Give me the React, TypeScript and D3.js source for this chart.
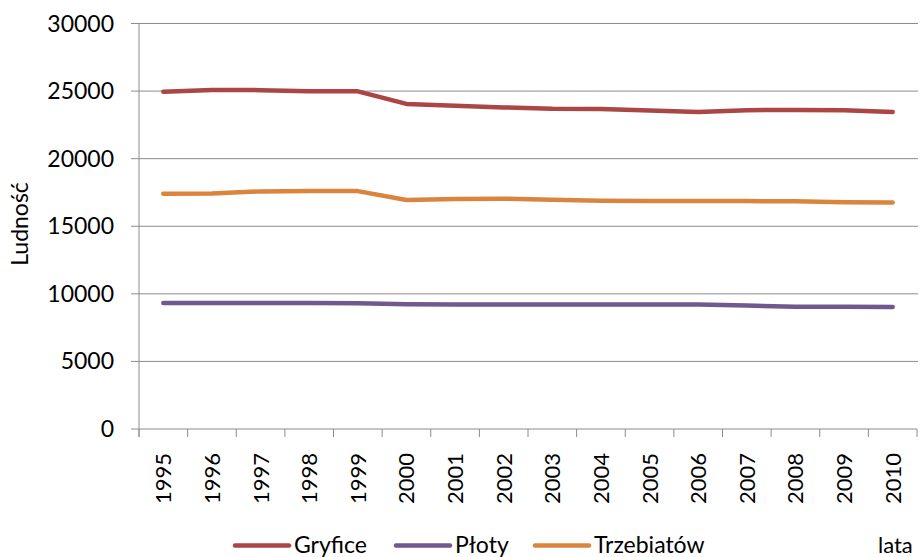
import React from "react";
import * as d3 from "d3";

const years = ["1995","1996","1997","1998","1999","2000","2001","2002","2003","2004","2005","2006","2007","2008","2009","2010"];
const gryfice = [24950,25080,25070,24980,24980,24050,23920,23790,23690,23680,23560,23460,23590,23600,23580,23460];
const ploty = [9320,9320,9320,9320,9310,9230,9220,9220,9220,9220,9220,9210,9130,9050,9040,9030];
const trzebiatow = [17400,17420,17580,17600,17600,16940,17020,17040,16960,16880,16860,16860,16860,16850,16770,16760];
const yTicks = [0,5000,10000,15000,20000,25000,30000];
const seriesNames = ["Gryfice","Płoty","Trzebiatów"];
const seriesColors = ["#AA4643","#71588F","#DB843D"];

const W = 920, H = 557;
const FONT = "Lato, 'Open Sans', sans-serif";

export default function App() {
  const x = d3.scaleBand<string>().domain(years).range([139, 917]).padding(0);
  const y = d3.scaleLinear().domain([0, 30000]).range([429, 23.5]);
  const line = d3.line<number>()
    .x((_, i) => (x(years[i]) as number) + x.bandwidth() / 2)
    .y((d) => y(d));
  const series = [gryfice, ploty, trzebiatow];
  const boundaries = years.map((yr) => x(yr) as number).concat([917]);
  const legendX = [235, 396, 535];

  return (
    <svg width={W} height={H} style={{ position: "absolute", left: 0, top: 0, background: "#fff" }}>
      {yTicks.map((t) => (
        <g key={t}>
          <line x1={131} x2={t === 0 ? 917 : 918} y1={y(t)} y2={y(t)} stroke="#8c8c8c" strokeWidth={1} />
          <text x={114} y={y(t)} dy="0.35em" textAnchor="end" fontFamily={FONT} fontSize={23} fill="#000">{t}</text>
        </g>
      ))}
      <line x1={139} x2={139} y1={y(30000)} y2={437} stroke="#8c8c8c" strokeWidth={1} />
      {boundaries.map((bx, i) => (
        <line key={i} x1={bx} x2={bx} y1={429} y2={437} stroke="#8c8c8c" strokeWidth={1} />
      ))}
      {years.map((yr) => {
        const cx = (x(yr) as number) + x.bandwidth() / 2;
        return (
          <text key={yr} transform={`translate(${cx + 8},453) rotate(-90)`} textAnchor="end" fontFamily={FONT} fontSize={22} fill="#000">{yr}</text>
        );
      })}
      {series.map((s, i) => (
        <path key={i} d={line(s) as string} fill="none" stroke={seriesColors[i]} strokeWidth={4.5} strokeLinecap="round" strokeLinejoin="round" />
      ))}
      <text transform="translate(28,224) rotate(-90)" textAnchor="middle" fontFamily={FONT} fontSize={23} fill="#000">Ludność</text>
      {seriesNames.map((n, i) => (
        <g key={n}>
          <line x1={legendX[i]} x2={legendX[i] + 54} y1={545.5} y2={545.5} stroke={seriesColors[i]} strokeWidth={4.5} strokeLinecap="round" />
          <text x={legendX[i] + 59} y={553} fontFamily={FONT} fontSize={23} fill="#000">{n}</text>
        </g>
      ))}
      <text x={878} y={553} fontFamily={FONT} fontSize={22} fill="#000">lata</text>
    </svg>
  );
}
